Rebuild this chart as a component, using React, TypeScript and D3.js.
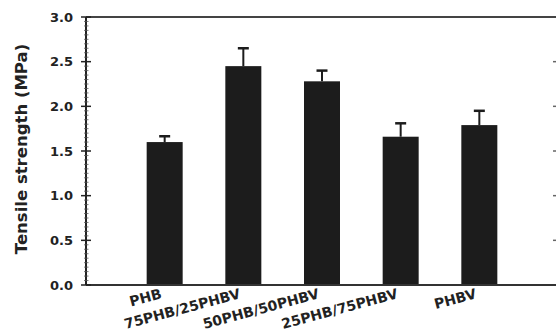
import React from "react";
import * as d3 from "d3";

const categories = ["PHB", "75PHB/25PHBV", "50PHB/50PHBV", "25PHB/75PHBV", "PHBV"];
const means = [1.6, 2.45, 2.28, 1.66, 1.79];
const errors = [0.065, 0.2, 0.12, 0.15, 0.16];
const yTicks = [0, 0.5, 1.0, 1.5, 2.0, 2.5, 3.0];

const W = 556;
const H = 334;
const left = 86;
const right = 558;
const top = 17;
const bottom = 285;
const font = "'DejaVu Sans', sans-serif";

export default function App() {
  const x = d3.scaleLinear().domain([0, categories.length + 1]).range([left, right]);
  const y = d3.scaleLinear().domain([0, 3]).range([bottom, top]);
  const minor = d3.range(0, 3.0001, 0.05).filter((v) => Math.abs(v * 2 - Math.round(v * 2)) > 0.01);
  const barW = 36;
  const ink = "#1c1c1c";

  return (
    <svg width={W} height={H} style={{ position: "absolute", left: 0, top: 0, background: "#fff" }}>
      {/* bars */}
      {categories.map((c, i) => {
        const cx = x(i + 1);
        return (
          <g key={c}>
            <rect x={cx - barW / 2} y={y(means[i])} width={barW} height={y(0) - y(means[i])} fill={ink} />
            <line x1={cx} x2={cx} y1={y(means[i])} y2={y(means[i] + errors[i])} stroke={ink} strokeWidth={2} />
            <line x1={cx - 5.5} x2={cx + 5.5} y1={y(means[i] + errors[i])} y2={y(means[i] + errors[i])} stroke={ink} strokeWidth={2.5} />
          </g>
        );
      })}

      {/* frame */}
      <line x1={left} x2={W} y1={top} y2={top} stroke="#444" strokeWidth={2} />
      <line x1={left} x2={W} y1={bottom} y2={bottom} stroke="#333" strokeWidth={2} />
      <line x1={left} x2={left} y1={top} y2={bottom} stroke="#222" strokeWidth={2} />
      <line x1={right} x2={right} y1={top} y2={bottom} stroke="#333" strokeWidth={2} />

      {/* left ticks */}
      {minor.map((v) => (
        <line key={"m" + v} x1={left - 2} x2={left + 2.5} y1={y(v)} y2={y(v)} stroke="#555" strokeWidth={0.8} />
      ))}
      {yTicks.map((v) => (
        <g key={"t" + v}>
          <line x1={left - 5} x2={left + 5} y1={y(v)} y2={y(v)} stroke="#222" strokeWidth={1.5} />
          <text x={73} y={y(v)} dy="0.36em" textAnchor="end" fontFamily={font} fontWeight="bold" fontSize={13} fill="#222">
            {v.toFixed(1)}
          </text>
        </g>
      ))}
      {/* right ticks */}
      {yTicks.filter((v) => v > 0 && v < 3).map((v) => (
        <line key={"r" + v} x1={right - 5} x2={right} y1={y(v)} y2={y(v)} stroke="#666" strokeWidth={1.5} />
      ))}

      {/* category labels */}
      {categories.map((c, i) => (
        <text
          key={"l" + c}
          transform={`translate(${x(i + 1) - 2},${298}) rotate(-15)`}
          textAnchor="end"
          fontFamily={font}
          fontWeight="bold"
          fontSize={14}
          fill="#222"
        >
          {c}
        </text>
      ))}

      {/* y title */}
      <text
        transform={`translate(27,${(top + bottom) / 2 - 2}) rotate(-90)`}
        textAnchor="middle"
        fontFamily={font}
        fontWeight="bold"
        fontSize={16.5}
        fill="#222"
      >
        Tensile strength (MPa)
      </text>
    </svg>
  );
}
